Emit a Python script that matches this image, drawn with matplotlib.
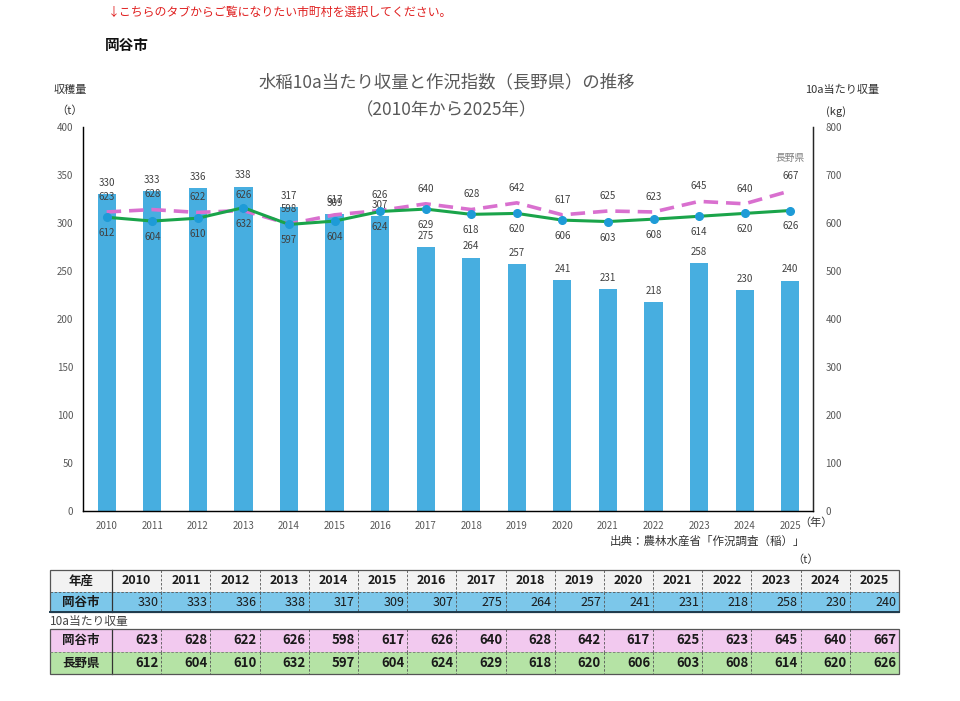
import matplotlib.pyplot as plt
from matplotlib.patches import Rectangle

plt.rcParams['font.family'] = ['Noto Sans CJK JP', 'DejaVu Sans']

years = list(range(2010, 2026))
harvest = [330, 333, 336, 338, 317, 309, 307, 275, 264, 257, 241, 231, 218, 258, 230, 240]
okaya_10a = [623, 628, 622, 626, 598, 617, 626, 640, 628, 642, 617, 625, 623, 645, 640, 667]
nagano_10a = [612, 604, 610, 632, 597, 604, 624, 629, 618, 620, 606, 603, 608, 614, 620, 626]

bar_c = '#47AEE0'
pink = '#D970CF'
green = '#1AA44A'
dot = '#1E9BD7'
gray = '#595959'

fig = plt.figure(figsize=(9.6, 7.01), dpi=100)

# background axes in pixel coords for free text and the table
bg = fig.add_axes([0, 0, 1, 1])
bg.set_xlim(0, 960)
bg.set_ylim(701, 0)
bg.axis('off')

ax = fig.add_axes([83/960, 1-511/701, 730/960, 384/701])
x = list(range(len(years)))
ax.bar(x, harvest, width=0.4, color=bar_c, zorder=2)
for i, v in enumerate(harvest):
    ax.annotate(str(v), (i, v), xytext=(0, 8), textcoords='offset points',
                ha='center', va='center', fontsize=7, color='#404040')
ax.set_xlim(-0.52, 15.5)
ax.set_ylim(0, 400)
ax.set_yticks(range(0, 401, 50))
ax.set_xticks(x)
ax.set_xticklabels([str(y) for y in years])
ax.tick_params(length=0, labelsize=7, colors=gray, pad=7)
ax.spines['top'].set_visible(False)
for s in ['left', 'bottom', 'right']:
    ax.spines[s].set_color('#262626')
    ax.spines[s].set_linewidth(1.0)

ax2 = ax.twinx()
ax2.plot(x, okaya_10a, color=pink, lw=2.6, ls=(0, (4, 2.2)), zorder=3)
ax2.plot(x, nagano_10a, color=green, lw=2.2, marker='o', ms=5.5,
         mfc=dot, mec=dot, zorder=4)
for i, v in enumerate(okaya_10a):
    ax2.annotate(str(v), (i, v), xytext=(0, 11), textcoords='offset points',
                 ha='center', va='center', fontsize=7, color='#404040')
for i, v in enumerate(nagano_10a):
    ax2.annotate(str(v), (i, v), xytext=(0, -11.5), textcoords='offset points',
                 ha='center', va='center', fontsize=7, color='#404040')
ax2.annotate('長野県', (x[-1], okaya_10a[-1]), xytext=(0, 24), textcoords='offset points',
             ha='center', va='center', fontsize=7, color='#7F7F7F')
ax2.set_ylim(0, 800)
ax2.set_yticks(range(0, 801, 100))
ax2.tick_params(length=0, labelsize=7, colors=gray, pad=9)
ax2.spines['top'].set_visible(False)
ax2.spines['right'].set_color('#262626')

# titles and axis captions
bg.text(447, 82, '水稲10a当たり収量と作況指数（長野県）の推移', ha='center', va='center',
        fontsize=12.5, color=gray)
bg.text(447, 110, '（2010年から2025年）', ha='center', va='center', fontsize=12.5, color=gray)
bg.text(108, 12, '↓こちらのタブからご覧になりたい市町村を選択してください。', ha='left', va='center',
        fontsize=8.6, color='#E02020')
bg.text(105, 45, '岡谷市', ha='left', va='center', fontsize=10.5, fontweight='bold', color='#111111')
bg.text(70, 90, '収穫量', ha='center', va='center', fontsize=8, color='#333333')
bg.text(70, 111, '（t）', ha='center', va='center', fontsize=8, color='#333333')
bg.text(842, 90, '10a当たり収量', ha='center', va='center', fontsize=8, color='#333333')
bg.text(836, 112, '(kg)', ha='center', va='center', fontsize=8, color='#333333')
bg.text(816, 523, '（年）', ha='center', va='center', fontsize=8, color='#333333')
bg.text(805, 541, '出典：農林水産省「作況調査（稲）」', ha='right', va='center',
        fontsize=8.3, color='#333333')
bg.text(806, 560, '（t）', ha='center', va='center', fontsize=8, color='#333333')

# table below the chart
x0, lab_w = 50, 62
col_w = (899 - 112) / 16
rows = [
    (570, 592, '#F2F2F2', '年産', [str(y) for y in years], 'center', 'bold'),
    (592, 612, '#7CC7EA', '岡谷市', [str(v) for v in harvest], 'right', 'normal'),
    (629, 652, '#F2C9EF', '岡谷市', [str(v) for v in okaya_10a], 'right', 'bold'),
    (652, 674, '#B5E3A5', '長野県', [str(v) for v in nagano_10a], 'right', 'bold'),
]
for top, bot, fc, label, vals, align, weight in rows:
    h = bot - top
    bg.add_patch(Rectangle((x0, top), 899 - x0, h, facecolor=fc, edgecolor='none', zorder=1))
    bg.text(x0 + lab_w / 2, top + h / 2, label, ha='center', va='center',
            fontsize=9, fontweight='bold', color='#1a1a1a', zorder=3)
    for j, s in enumerate(vals):
        cx = 112 + j * col_w
        if align == 'center':
            bg.text(cx + col_w / 2, top + h / 2, s, ha='center', va='center',
                    fontsize=9, fontweight=weight, color='#1a1a1a', zorder=3)
        else:
            bg.text(cx + col_w - 3, top + h / 2, s, ha='right', va='center',
                    fontsize=9.5 if weight == 'bold' else 9, fontweight=weight,
                    color='#1a1a1a', zorder=3)
        if j > 0:
            bg.plot([cx, cx], [top, bot], color='#555555', lw=0.6, ls=(0, (3, 2)), zorder=2)
    bg.plot([112, 112], [top, bot], color='#333333', lw=0.9, zorder=2)

# outer borders of the two table blocks
for top, bot in [(570, 612), (629, 674)]:
    bg.add_patch(Rectangle((x0, top), 899 - x0, bot - top, facecolor='none',
                           edgecolor='#555555', lw=0.9, zorder=4))
bg.plot([x0, 899], [592, 592], color='#555555', lw=0.6, ls=(0, (3, 2)), zorder=4)
bg.plot([x0, 899], [612, 612], color='#1f3b4d', lw=1.4, zorder=4)
bg.plot([x0, 899], [652, 652], color='#777777', lw=0.6, ls=(0, (3, 2)), zorder=4)
bg.text(50, 621, '10a当たり収量', ha='left', va='center', fontsize=8.5, color='#444444')

fig.savefig('out.png', dpi=100)
